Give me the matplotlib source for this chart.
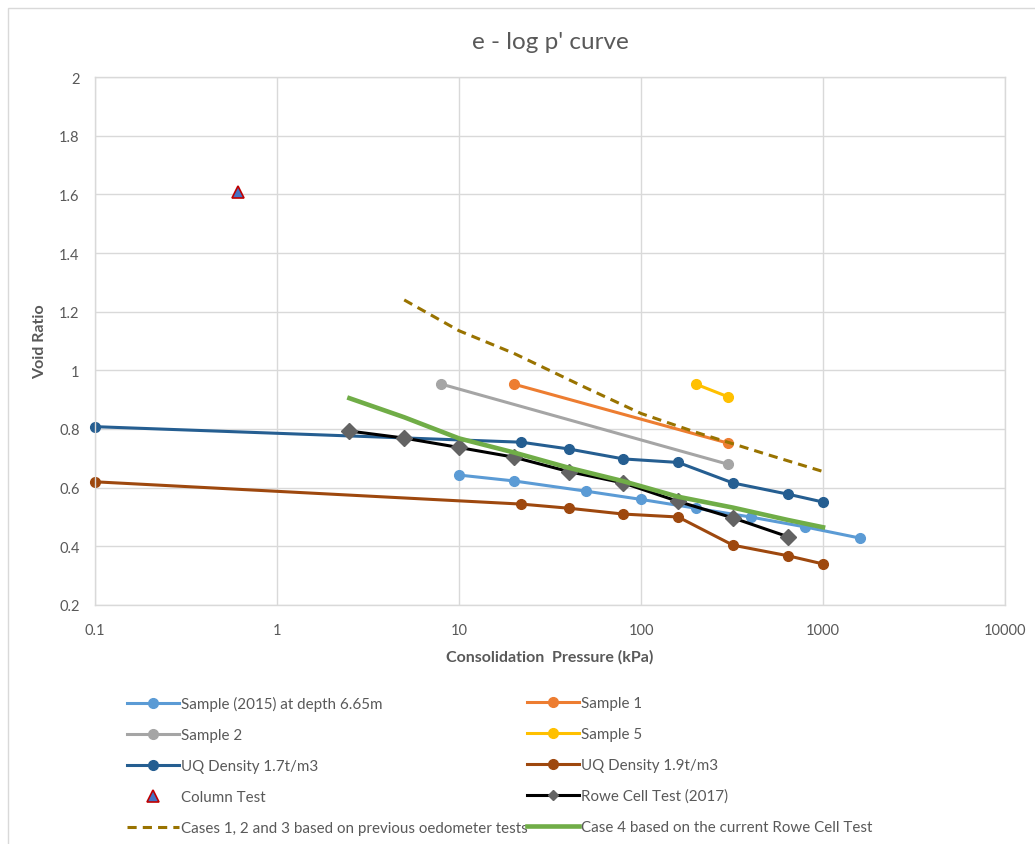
import numpy as np
import matplotlib.pyplot as plt
from matplotlib.lines import Line2D
from matplotlib.patches import Rectangle

plt.rcParams['font.family'] = ['Lato', 'DejaVu Sans']

# Consolidation test data: pressure (kPa) and void ratio
p_2015 = [10, 20, 50, 100, 200, 400, 800, 1600]
e_2015 = [0.643, 0.623, 0.588, 0.560, 0.530, 0.500, 0.466, 0.428]

p_s1 = [20, 300]
e_s1 = [0.953, 0.752]

p_s2 = [8, 300]
e_s2 = [0.953, 0.680]

p_s5 = [200, 300]
e_s5 = [0.953, 0.910]

p_uq17 = [0.1, 22, 40, 80, 160, 320, 640, 1000]
e_uq17 = [0.808, 0.755, 0.732, 0.698, 0.686, 0.616, 0.578, 0.551]

p_uq19 = [0.1, 22, 40, 80, 160, 320, 640, 1000]
e_uq19 = [0.620, 0.544, 0.530, 0.510, 0.500, 0.404, 0.368, 0.340]

p_column = [0.61]
e_column = [1.608]

p_rowe = [2.5, 5, 10, 20, 40, 80, 160, 320, 640]
e_rowe = [0.793, 0.769, 0.737, 0.704, 0.655, 0.616, 0.553, 0.497, 0.433]

p_cases123 = [5, 10, 20, 50, 100, 200, 500, 1000]
e_cases123 = [1.240, 1.135, 1.058, 0.940, 0.853, 0.789, 0.712, 0.655]

p_case4 = [2.5, 5, 10, 20, 40, 80, 160, 320, 640, 1000]
e_case4 = [0.905, 0.840, 0.768, 0.720, 0.668, 0.622, 0.569, 0.532, 0.490, 0.465]

x_ticks = [0.1, 1, 10, 100, 1000, 10000]
x_tick_labels = ['0.1', '1', '10', '100', '1000', '10000']
y_ticks = [0.2, 0.4, 0.6, 0.8, 1.0, 1.2, 1.4, 1.6, 1.8, 2.0]
y_tick_labels = ['0.2', '0.4', '0.6', '0.8', '1', '1.2', '1.4', '1.6', '1.8', '2']

W, H = 1035, 845
fig = plt.figure(figsize=(W / 100, H / 100), dpi=100)
ax = fig.add_axes([95 / W, 1 - 606 / H, (1005 - 95) / W, (606 - 78) / H])

# chart area border
fig.patches.append(Rectangle((8 / W, -0.1), 1.2, 1 - 9 / H + 0.1, transform=fig.transFigure,
                             fill=False, edgecolor='#D9D9D9', linewidth=1.0))

lw = 2.2
ms = 7
h_2015, = ax.plot(p_2015, e_2015, color='#5B9BD5', lw=lw, marker='o', ms=ms,
                  label='Sample (2015) at depth 6.65m')
h_s1, = ax.plot(p_s1, e_s1, color='#ED7D31', lw=lw, marker='o', ms=ms, label='Sample 1')
h_s2, = ax.plot(p_s2, e_s2, color='#A5A5A5', lw=lw, marker='o', ms=ms, label='Sample 2')
h_s5, = ax.plot(p_s5, e_s5, color='#FFC000', lw=lw, marker='o', ms=ms, label='Sample 5')
h_uq17, = ax.plot(p_uq17, e_uq17, color='#255E91', lw=lw, marker='o', ms=ms,
                  label='UQ Density 1.7t/m3', clip_on=False)
h_uq19, = ax.plot(p_uq19, e_uq19, color='#9E480E', lw=lw, marker='o', ms=ms,
                  label='UQ Density 1.9t/m3', clip_on=False)
h_col, = ax.plot(p_column, e_column, linestyle='none', marker='^', ms=9,
                 markerfacecolor='#4472C4', markeredgecolor='#C00000', markeredgewidth=1.2,
                 label='Column Test')
h_rowe, = ax.plot(p_rowe, e_rowe, color='black', lw=lw, marker='D', ms=8,
                  markerfacecolor='#636363', markeredgecolor='#636363', label='Rowe Cell Test (2017)')
h_c123, = ax.plot(p_cases123, e_cases123, color='#997300', lw=lw, linestyle=(0, (3, 2)),
                  label='Cases 1, 2 and 3 based on previous oedometer tests')
h_c4, = ax.plot(p_case4, e_case4, color='#70AD47', lw=3.3,
                label='Case 4 based on the current Rowe Cell Test')

ax.set_xscale('log')
ax.set_xlim(0.1, 10000)
ax.set_ylim(0.2, 2.0)
ax.set_xticks(x_ticks)
ax.set_xticklabels(x_tick_labels)
ax.set_yticks(y_ticks)
ax.set_yticklabels(y_tick_labels)
ax.minorticks_off()
ax.tick_params(axis='both', length=0, labelsize=10.5, labelcolor='#595959')
ax.tick_params(axis='x', pad=13)
ax.tick_params(axis='y', pad=11)
ax.grid(True, color='#D9D9D9', lw=1.0)
ax.set_axisbelow(True)
for s in ax.spines.values():
    s.set_color('#D9D9D9')
    s.set_linewidth(1.0)

ax.set_title("e - log p' curve", fontsize=17.5, color='#595959', pad=21)
ax.set_xlabel('Consolidation  Pressure (kPa)', fontsize=11.5, fontweight='bold',
              color='#595959', labelpad=9)
ax.set_ylabel('Void Ratio', fontsize=11.5, fontweight='bold', color='#595959', labelpad=9)

# smaller diamond for the legend entry
rowe_key = Line2D([], [], color='black', lw=lw, marker='D', ms=5.5,
                  markerfacecolor='#636363', markeredgecolor='#636363',
                  label='Rowe Cell Test (2017)')

# two-column legend, filled row by row
leg_kw = dict(frameon=False, fontsize=10.9, handlelength=3.44, handletextpad=0.15,
              labelspacing=1.12, borderpad=0, borderaxespad=0, loc='upper left')
leg1 = fig.legend(handles=[h_2015, h_s2, h_uq17, h_col, h_c123],
                  bbox_to_anchor=(127 / W, 1 - 697 / H), **leg_kw)
leg2 = fig.legend(handles=[h_s1, h_s5, h_uq19, rowe_key, h_c4],
                  bbox_to_anchor=(527 / W, 1 - 697 / H), **leg_kw)
for leg in (leg1, leg2):
    for t in leg.get_texts():
        t.set_color('#595959')

fig.savefig('out.png', dpi=100)
